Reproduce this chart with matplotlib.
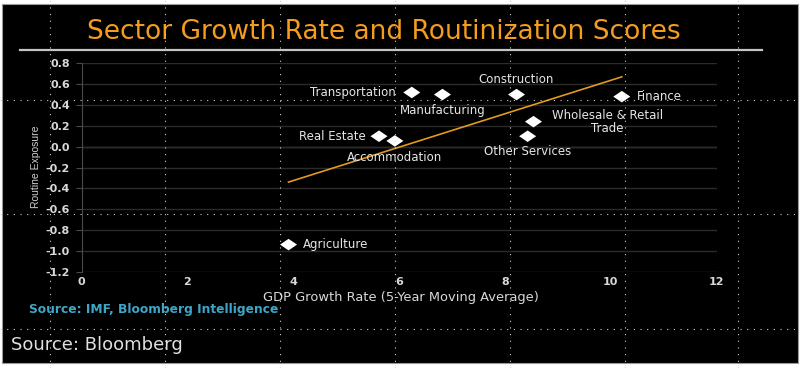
import numpy as np
import matplotlib
matplotlib.use('Agg')
import matplotlib.pyplot as plt
from matplotlib.path import Path
from matplotlib.patches import Rectangle
from matplotlib.lines import Line2D

# data
sectors = ['Transportation', 'Manufacturing', 'Construction', 'Finance',
           'Wholesale & Retail\nTrade', 'Other Services', 'Real Estate',
           'Accommodation', 'Agriculture']
gdp_growth = [6.24, 6.82, 8.22, 10.21, 8.54, 8.43, 5.62, 5.92, 3.91]
routine_exposure = [0.52, 0.50, 0.50, 0.48, 0.24, 0.10, 0.10, 0.055, -0.94]
trend_x = [3.91, 10.21]
trend_y = [-0.34, 0.67]
x_ticks = [0, 2, 4, 6, 8, 10, 12]
y_ticks = [0.8, 0.6, 0.4, 0.2, 0.0, -0.2, -0.4, -0.6, -0.8, -1.0, -1.2]

# label placement (offset in points, alignment)
label_pos = {
    'Transportation': ((-11.5, 0), 'right'),
    'Manufacturing': ((0, -11.5), 'center'),
    'Construction': ((0, 11), 'center'),
    'Finance': ((10.5, 0), 'left'),
    'Wholesale & Retail\nTrade': ((53, -0.5), 'center'),
    'Other Services': ((0, -11), 'center'),
    'Real Estate': ((-9.5, -0.5), 'right'),
    'Accommodation': ((0, -12), 'center'),
    'Agriculture': ((10, 0), 'left'),
}

W, H = 800, 368
def fx(px):
    return px / W
def fy(py):
    return 1 - py / H

fig = plt.figure(figsize=(8, 3.68), dpi=100, facecolor='white')
# black panel behind everything
fig.patches.append(Rectangle((fx(1.5), fy(363)), fx(796), (363 - 4) / H,
                             transform=fig.transFigure, facecolor='black',
                             edgecolor='#9a9a9a', linewidth=0.8, zorder=-10))

ax = fig.add_axes([fx(81.7), fy(271.7), 634.8 / W, (271.7 - 63.3) / H])
ax.patch.set_alpha(0)

diamond = Path([(-1, 0), (0, 0.68), (1, 0), (0, -0.68), (-1, 0)],
               [Path.MOVETO, Path.LINETO, Path.LINETO, Path.LINETO, Path.CLOSEPOLY])

ax.plot(trend_x, trend_y, color='#e39a1c', linewidth=1.2, zorder=3)
ax.scatter(gdp_growth, routine_exposure, marker=diamond, s=150, color='white',
           edgecolors='none', zorder=4)

for name, gx, ry in zip(sectors, gdp_growth, routine_exposure):
    off, ha = label_pos[name]
    ax.annotate(name, (gx, ry), xytext=off, textcoords='offset points',
                ha=ha, va='center', color='#e6e6e6', fontsize=8.5,
                family='DejaVu Sans', linespacing=1.0, zorder=5)

ax.set_xlim(0, 12)
ax.set_ylim(-1.2, 0.8)
ax.set_xticks(x_ticks)
ax.set_yticks(y_ticks)
ax.set_xticklabels([str(t) for t in x_ticks])
ax.set_yticklabels([f'{t:.1f}' for t in y_ticks])
ax.grid(axis='y', color='#2b2b2b', linewidth=1.0)
ax.axhline(0, color='#3a3a3a', linewidth=1.0, zorder=1)
for s in ['top', 'right', 'bottom']:
    ax.spines[s].set_visible(False)
ax.spines['left'].set_color('#4a4a4a')
ax.tick_params(axis='y', colors='#4a4a4a', length=4, pad=4.5, labelcolor='#d8d8d8',
               labelsize=8)
ax.tick_params(axis='x', length=0, pad=4, labelcolor='#d8d8d8', labelsize=8)
for lab in ax.get_xticklabels() + ax.get_yticklabels():
    lab.set_family('DejaVu Sans')
    lab.set_fontweight('bold')

fig.text(fx(36), fy(167), 'Routine Exposure', rotation=90, ha='center', va='center',
         color='#d0d0d0', fontsize=7.5, family='Liberation Sans')
fig.text(fx(401), fy(298), 'GDP Growth Rate (5-Year Moving Average)', ha='center',
         va='center', color='#d8d8d8', fontsize=9.4, family='DejaVu Sans')
fig.text(fx(29), fy(310), 'Source: IMF, Bloomberg Intelligence', ha='left', va='center',
         color='#3fa6c8', fontsize=8.8, fontweight='bold', family='DejaVu Sans')

fig.text(fx(384), fy(32), 'Sector Growth Rate and Routinization Scores', ha='center',
         va='center', color='#f39c1f', fontsize=19, family='DejaVu Sans')
fig.lines.append(Line2D([fx(20), fx(762)], [fy(50), fy(50)], transform=fig.transFigure,
                        color='#c4c4c4', linewidth=1.6))
fig.text(fx(11), fy(345), 'Source: Bloomberg', ha='left', va='center',
         color='#e0e0e0', fontsize=13, family='DejaVu Sans')

# dotted layout guides visible in the screenshot
for px in [50, 165, 280, 395, 510, 625, 738]:
    fig.lines.append(Line2D([fx(px), fx(px)], [0, 1], transform=fig.transFigure,
                            color='#d0d0d0', linewidth=0.8, linestyle=(0, (1, 5)),
                            zorder=10))
for py in [100, 214, 329]:
    fig.lines.append(Line2D([0, 1], [fy(py), fy(py)], transform=fig.transFigure,
                            color='#d0d0d0', linewidth=0.8, linestyle=(0, (1, 5)),
                            zorder=10))

fig.savefig('out.png', dpi=100, facecolor=fig.get_facecolor())
